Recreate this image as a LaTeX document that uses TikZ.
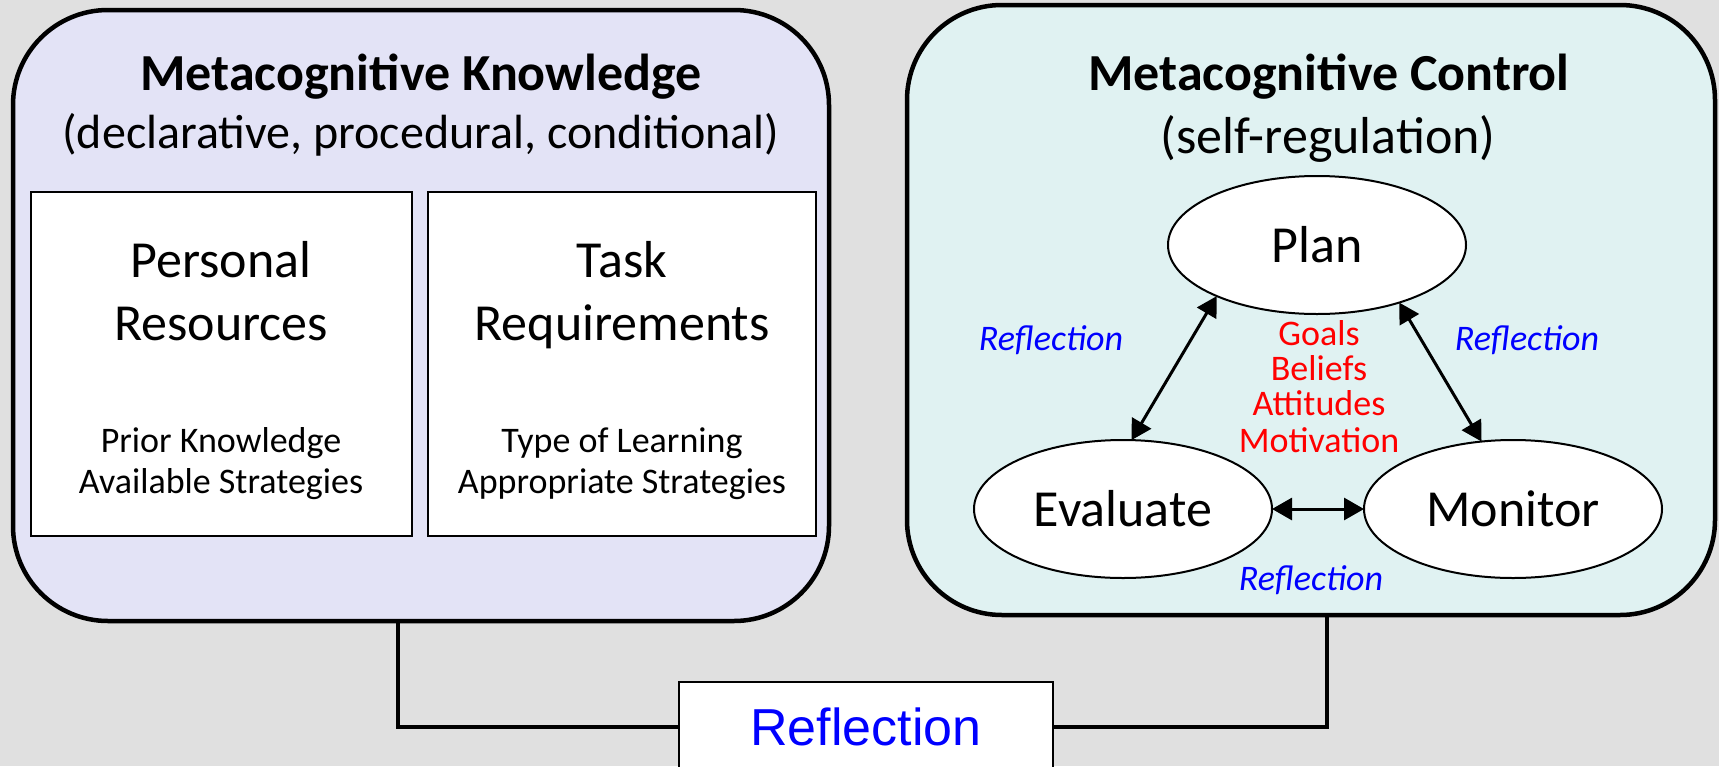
\documentclass[tikz,border=0pt]{standalone}
\usepackage{fontspec}
\setmainfont{Carlito}
\newfontfamily\arialf{Liberation Sans}
\usetikzlibrary{shapes.geometric,arrows.meta}
\definecolor{bgc}{RGB}{224,224,224}
\definecolor{kfill}{RGB}{227,227,246}
\definecolor{cfill}{RGB}{224,242,242}
\begin{document}
\begin{tikzpicture}[x=1pt,y=-1pt,
  bigbox/.style={draw=black, line width=4.5pt, rounded corners=95pt, inner sep=0pt, outer sep=0pt},
  innerbox/.style={draw=black, line width=2pt, fill=white, inner sep=0pt, outer sep=0pt},
  oval/.style={ellipse, draw=black, line width=2pt, fill=white, inner sep=0pt, outer sep=0pt,
    minimum width=298pt, minimum height=138pt, font=\fontsize{52pt}{62pt}\selectfont},
  bigtxt/.style={anchor=base, inner sep=0pt, font=\fontsize{52pt}{62pt}\selectfont},
  titletxt/.style={anchor=base, inner sep=0pt, font=\fontsize{52pt}{62pt}\selectfont\bfseries},
  subtxt/.style={anchor=base, inner sep=0pt, font=\fontsize{48pt}{58pt}\selectfont},
  smalltxt/.style={anchor=base, inner sep=0pt, font=\fontsize{36pt}{42pt}\selectfont},
  redtxt/.style={anchor=base, inner sep=0pt, text=red, font=\fontsize{36pt}{42pt}\selectfont},
  refltxt/.style={anchor=base, inner sep=0pt, text=blue, font=\fontsize{36pt}{42pt}\selectfont\itshape},
  conn/.style={draw=black, line width=4pt, line join=miter},
  arr/.style={<->, >={Triangle[length=20pt,width=22pt]}, line width=3pt},
  refbox/.style={draw=black, line width=2pt, fill=white, inner sep=0pt, outer sep=0pt}
]
\useasboundingbox (0,0) rectangle (1719,766);
\fill[bgc] (0,0) rectangle (1719,766);
\clip (0,0) rectangle (1719,766);

% big boxes
\node[bigbox, fill=kfill, minimum width=816pt, minimum height=611pt] (know) at (421,315.5) {};
\node[bigbox, fill=cfill, minimum width=808pt, minimum height=610pt] (ctrl) at (1311,310) {};

% Reflection box and connectors
\node[refbox, minimum width=374pt, minimum height=200pt, anchor=north] (rbox) at (866,682) {};
\coordinate (kj) at (398,727);
\coordinate (cj) at (1327,727);
\draw[conn] (kj |- know.south) -- (kj) -- (kj -| rbox.west);
\draw[conn] (cj |- ctrl.south) -- (cj) -- (cj -| rbox.east);
\node[anchor=base, inner sep=0pt, text=blue, font=\arialf\fontsize{52pt}{62pt}\selectfont] (rtext) at (866,745) {Reflection};

% left box content
\node[titletxt] (t1) at (421,90) {Metacognitive Knowledge};
\node[subtxt] (s1) at (421,148) {(declarative, procedural, conditional)};
\node[innerbox, minimum width=381pt, minimum height=344pt] (pr) at (221.5,364) {};
\node[innerbox, minimum width=388pt, minimum height=344pt] (tr) at (622,364) {};
\node[bigtxt] (pr1) at (221,277) {Personal};
\node[bigtxt] (pr2) at (221,340) {Resources};
\node[smalltxt] (pr3) at (221,452) {Prior Knowledge};
\node[smalltxt] (pr4) at (221,493) {Available Strategies};
\node[bigtxt] (tr1) at (622,277) {Task};
\node[bigtxt] (tr2) at (622,340) {Requirements};
\node[smalltxt] (tr3) at (622,452) {Type of Learning};
\node[smalltxt] (tr4) at (622,493) {Appropriate Strategies};

% right box content
\node[titletxt] (t2) at (1329,90) {Metacognitive Control};
\node[bigtxt] (s2) at (1328,153) {(self-regulation)};
\node[oval] (plan) at (1317,245) {Plan};
\node[oval] (eval) at (1123,509) {Evaluate};
\node[oval] (mon) at (1513,509) {Monitor};
\draw[arr] (plan.207) -- (eval.83);
\draw[arr] (plan.325.5) -- (mon.115.6);
\draw[arr] (eval) -- (mon);
\node[redtxt] (g1) at (1319,345) {Goals};
\node[redtxt] (g2) at (1319,380) {Beliefs};
\node[redtxt] (g3) at (1319,415) {Attitudes};
\node[redtxt] (g4) at (1319,452) {Motivation};
\node[refltxt] (rf1) at (1051,350) {Reflection};
\node[refltxt] (rf2) at (1527,350) {Reflection};
\node[refltxt] (rf3) at (1311,590) {Reflection};
\end{tikzpicture}
\end{document}
